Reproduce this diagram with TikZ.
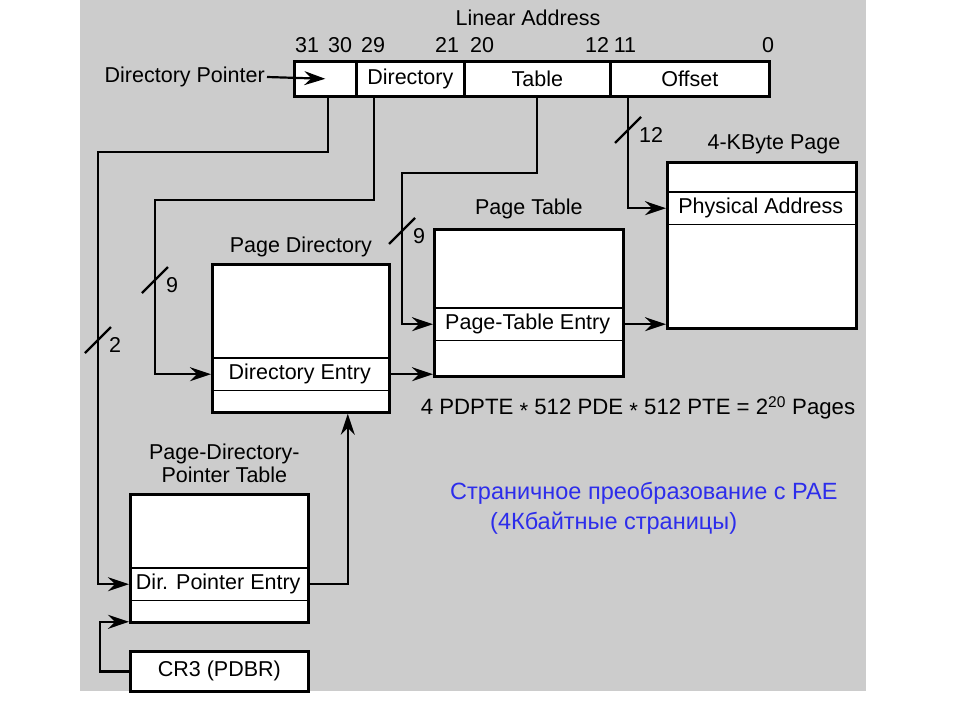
\documentclass[tikz,border=0pt]{standalone}
\usepackage{fontspec}
\setmainfont{Liberation Sans}
\usetikzlibrary{positioning, arrows.meta, calc}
\definecolor{bggray}{RGB}{204,204,204}
\definecolor{rusblue}{RGB}{45,45,235}

\begin{document}
\begin{tikzpicture}[x=1pt, y=-1pt,
    font=\fontsize{21.5}{23}\selectfont,
    field/.style={draw, line width=2.6pt, fill=white, minimum height=35pt, anchor=north west, inner sep=0pt},
    tbl/.style={draw, line width=2.8pt, fill=white, anchor=north west, inner sep=0pt},
    row/.style={anchor=north west, inner sep=0pt, minimum height=32pt},
    sep/.style={line width=1.6pt},
    ttl/.style={inner sep=0pt},
    wire/.style={line width=2.2pt},
    arr/.style={wire, -{Stealth[length=21pt, width=14pt, inset=7pt]}},
    rus/.style={text=rusblue, font=\fontsize{23.5}{26}\selectfont, inner sep=0pt, anchor=west}]
    \fill[white] (0,0) rectangle (960,720);
    \useasboundingbox (0,0) rectangle (960,720);
    \fill[bggray] (80,0) rectangle (866,691);

    % linear address
    \node (latitle) at (528,18) {Linear Address};
    \foreach \b/\x in {31/307, 30/340, 29/373, 21/447, 20/482, 12/597, 11/625, 0/768}
        \node (bit\b) at (\x,45) {\b};
    \node[field, minimum width=62pt] (dp) at (293,60) {};
    \node[field, minimum width=108pt] (dir) at (355,60) {Directory};
    \node[field, minimum width=146pt] (tab) at (463,60) {Table};
    \node[field, minimum width=159pt] (off) at (609,60) {Offset};
    \node[anchor=east, inner sep=2pt] (dplabel) at (267,77) {Directory Pointer};
    \draw[arr] (dplabel.east) -- (dp.center);

    % tables
    \node[tbl, minimum width=178pt, minimum height=128pt] (pdpt) at (129,493) {};
    \node[row, minimum width=178pt] (pdpte) at (129,568) {Dir. Pointer Entry};
    \node[tbl, minimum width=178pt, minimum height=40pt] (cr3) at (129,650) {CR3 (PDBR)};
    \node[tbl, minimum width=177pt, minimum height=148pt] (pd) at (211,263) {};
    \node[row, minimum width=177pt] (pde) at (211,358) {Directory Entry};
    \node[tbl, minimum width=189pt, minimum height=147pt] (pt) at (433,228) {};
    \node[row, minimum width=189pt] (pte) at (433,308) {Page-Table Entry};
    \node[tbl, minimum width=189pt, minimum height=166pt] (pg) at (666,161) {};
    \node[row, minimum width=189pt] (pa) at (666,192) {Physical Address};
    \foreach \r in {pdpte, pde, pte, pa}
        \draw[sep] (\r.north west) -- (\r.north east) (\r.south west) -- (\r.south east);

    \node[ttl, above=6pt of pd] (pdtitle) {Page Directory};
    \node[ttl, above=9pt of pt] (pttitle) {Page Table};
    \node[ttl, above=7pt of pg, xshift=12pt] (pgtitle) {4-KByte Page};
    \node[ttl, above=10pt of pdpt, xshift=5pt, align=center] (pdpttitle) {Page-Directory-\\Pointer Table};

    % connectors
    \coordinate (dpbend) at (98,152);
    \coordinate (dirbend) at (155,200);
    \coordinate (tabbend) at (402,173);
    \draw[arr] ([xshift=3pt]dp.south) |- (dpbend) |- (pdpte.west);
    \draw[arr] ([xshift=19pt]dir.south west) |- (dirbend) |- (pde.west);
    \draw[arr] (tab.south) |- (tabbend) |- (pte.west);
    \draw[arr] ([xshift=19pt]off.south west) |- (pa.west);
    \draw[arr] (pdpte.east) -| ([xshift=-43pt]pd.south east);
    \draw[arr] (cr3.west) -- ++(-29pt,0) |- ([yshift=2pt]pdpt.south west);
    \draw[arr] (pde.east) -- (pde.east -| pt.west);
    \draw[arr] (pte.east) -- (pte.east -| pg.west);

    % bus widths
    \foreach \x/\y/\n [count=\i] in {98/340/2, 155/280/9, 402/231/9, 628/130/12}{
        \draw[wire] (\x-13,\y+13) -- (\x+13,\y-13);
        \node[anchor=west, inner sep=0pt] (bus\i) at (\x+11,\y+5) {\n};
    }

    \node[font=\fontsize{22.2}{24}\selectfont] (count) at (638,408) {4 PDPTE \raisebox{-.35ex}{*} 512 PDE \raisebox{-.35ex}{*} 512 PTE = 2\textsuperscript{20} Pages};
    \node[rus] (rus1) at (450,493) {Страничное преобразование с PAE};
    \node[rus] (rus2) at (490,523) {(4Кбайтные страницы)};
\end{tikzpicture}
\end{document}
